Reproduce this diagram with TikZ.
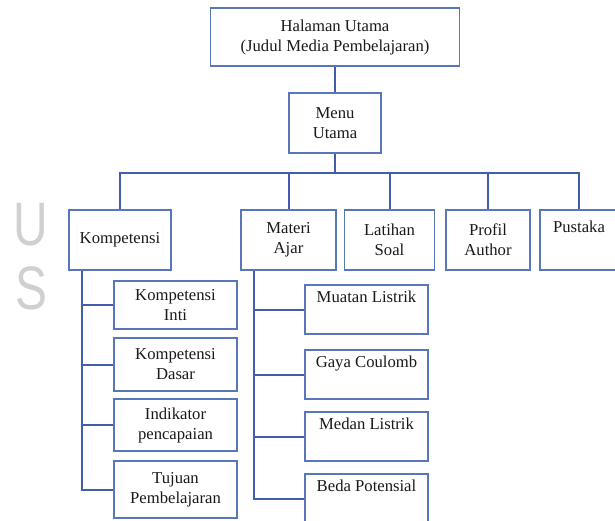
\documentclass[tikz,border=0pt]{standalone}
\usepackage{fontspec}
\setmainfont{Liberation Serif}
\setsansfont{Liberation Sans}
\usepackage{tikz}
\definecolor{boxblue}{RGB}{88,118,186}
\definecolor{linkblue}{RGB}{64,94,170}
\definecolor{wmgray}{RGB}{208,208,208}
\tikzset{
	box/.style={draw=boxblue, line width=1.1pt, align=center, inner sep=0pt, text=black!90, font=\fontsize{12.5}{15}\selectfont},
	dims/.style 2 args={minimum width=#1*0.75pt, minimum height=#2*0.75pt},
	link/.style={draw=linkblue, line width=1.5pt},
	wmark/.style={text=wmgray, align=center, font=\sffamily\fontsize{46}{46}\selectfont, inner sep=0pt}
}

\begin{document}
\begin{tikzpicture}[x=0.75pt, y=-0.75pt]
				\useasboundingbox (0,0) rectangle (615,521);
				\node[wmark, anchor=north] (wm) at (31,203) {\scalebox{0.78}[1]{U}\\[2pt]\scalebox{0.78}[1]{S}};
				
				\node[box, dims={249}{58}] (home) at (335,37) {Halaman Utama\\(Judul Media Pembelajaran)};
				\node[box, dims={92}{60}] (menu) at (335,123) {Menu\\Utama};
				\coordinate (hub) at (335,173);
				
				\node[box, dims={102}{60}] (komp) at (120,240) {Kompetensi};
				\node[box, dims={95}{60}] (materi) at (288.5,240) {Materi\\Ajar};
				\node[box, dims={90}{60}] (latihan) at (389.5,240) {Latihan\\Soal};
				\node[box, dims={84}{60}] (profil) at (488,240) {Profil\\Author};
				\node[box, dims={78}{60}] (pustaka) at (579,240) {Pustaka\\\strut};
				
				\node[box, dims={123}{48}] (ki) at (175.5,305) {Kompetensi\\Inti};
				\node[box, dims={123}{53}] (kd) at (175.5,364.5) {Kompetensi\\Dasar};
				\node[box, dims={123}{52}] (ind) at (175.5,425) {Indikator\\pencapaian};
				\node[box, dims={123}{57}] (tujuan) at (175.5,489.5) {Tujuan\\Pembelajaran};
				
				\node[box, dims={123}{49}] (muatan) at (366.5,309.5) {Muatan Listrik\\\strut};
				\node[box, dims={123}{49}] (gaya) at (366.5,374.5) {Gaya Coulomb\\\strut};
				\node[box, dims={123}{49}] (medan) at (366.5,436.5) {Medan Listrik\\\strut};
				\node[box, dims={123}{49}] (beda) at (366.5,498.5) {Beda Potensial\\\strut};
				
				\draw[link] (home) -- (menu);
				\draw[link] (menu) -- (hub);
				\draw[link] (komp.north) |- (hub) -| (pustaka.north);
				\draw[link] (hub -| materi.north) -- (materi.north);
				\draw[link] (hub -| latihan.north) -- (latihan.north);
				\draw[link] (hub -| profil.north) -- (profil.north);
				
				\coordinate (kline) at (82,0);
				\draw[link] (komp.south -| kline) |- (tujuan.west);
				\draw[link] (ki.west -| kline) -- (ki.west);
				\draw[link] (kd.west -| kline) -- (kd.west);
				\draw[link] (ind.west -| kline) -- (ind.west);
				
				\coordinate (mline) at (254,0);
				\draw[link] (materi.south -| mline) |- (beda.west);
				\draw[link] (muatan.west -| mline) -- (muatan.west);
				\draw[link] (gaya.west -| mline) -- (gaya.west);
				\draw[link] (medan.west -| mline) -- (medan.west);
\end{tikzpicture}
\end{document}
